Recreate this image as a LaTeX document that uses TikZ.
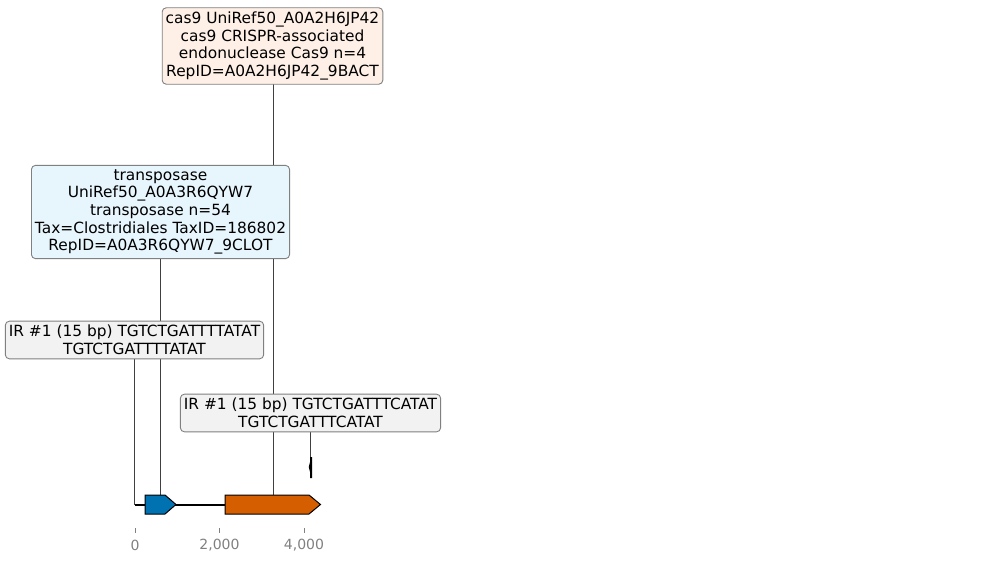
\documentclass[tikz,border=0pt]{standalone}
\usepackage{fontspec}
\setmainfont{DejaVu Sans}
\definecolor{casfill}{RGB}{254,240,230}
\definecolor{tpfill}{RGB}{231,245,253}
\definecolor{irfill}{RGB}{242,242,242}
\definecolor{geneblue}{RGB}{0,114,178}
\definecolor{geneorange}{RGB}{213,94,0}
\definecolor{boxline}{RGB}{128,128,128}
\definecolor{tickgray}{RGB}{128,128,128}
\pgfdeclarelayer{background}
\pgfsetlayers{background,main}
\begin{document}
\begin{tikzpicture}[x=1pt,y=-1pt,
  lab/.style={draw=boxline, rounded corners=4pt, align=center, line width=0.9pt,
    font=\fontsize{15.4}{17.7}\selectfont, inner xsep=3.5pt, inner ysep=4pt},
  conn/.style={draw=black!75, line width=0.7pt},
  gene/.style={draw=black, line width=1pt},
  ticklab/.style={text=tickgray, font=\fontsize{14}{15}\selectfont},
  tickmark/.style={draw=tickgray, line width=0.8pt}]
\useasboundingbox (0,0) rectangle (989,562);

\node[lab, fill=casfill] (cas9) at (272.5,46) {cas9 UniRef50\_A0A2H6JP42\\cas9 CRISPR-associated\\endonuclease Cas9 n=4\\RepID=A0A2H6JP42\_9BACT};
\node[lab, fill=tpfill] (tp) at (160.5,212) {transposase\\UniRef50\_A0A3R6QYW7\\transposase n=54\\Tax=Clostridiales TaxID=186802\\RepID=A0A3R6QYW7\_9CLOT};
\node[lab, fill=irfill] (ir1) at (134.5,340) {IR \#1 (15 bp) TGTCTGATTTTATAT\\TGTCTGATTTTATAT};
\node[lab, fill=irfill] (ir2) at (310.5,413) {IR \#1 (15 bp) TGTCTGATTTCATAT\\TGTCTGATTTCATAT};

% anchor points on the track
\coordinate (irA) at (135,505);
\coordinate (g1top) at (161,495);
\coordinate (g2top) at (273,495);
\coordinate (irB) at (311,458);

\begin{pgfonlayer}{background}
\draw[conn] (ir1.center) -- (ir1.center |- irA);
\draw[conn] (tp.center) -- (tp.center |- g1top);
\draw[conn] (g2top |- cas9.center) -- (g2top);
\draw[conn] (ir2.center) -- (ir2.center |- irB);
\end{pgfonlayer}

% backbone
\draw[line width=1.8pt] (135,505) -- (225,505);

% genes
\draw[gene, fill=geneblue] (145,495) -- (165,495) -- (176,504.5) -- (165,514) -- (145,514) -- cycle;
\draw[gene, fill=geneorange] (225,495) -- (309,495) -- (320.5,504.5) -- (309,514) -- (225,514) -- cycle;

% IR feature
\fill[black] (312.2,457) -- (312.2,478) -- (310,478) -- (310,472) -- (308.8,467) -- (310,462) -- (310,457) -- cycle;

% axis ticks
\foreach \x/\l in {135/0, 219.5/{2,000}, 304/{4,000}} {
  \draw[tickmark] (\x,528) -- (\x,533);
  \node[ticklab] at (\x,545.5) {\l};
}
\end{tikzpicture}
\end{document}
